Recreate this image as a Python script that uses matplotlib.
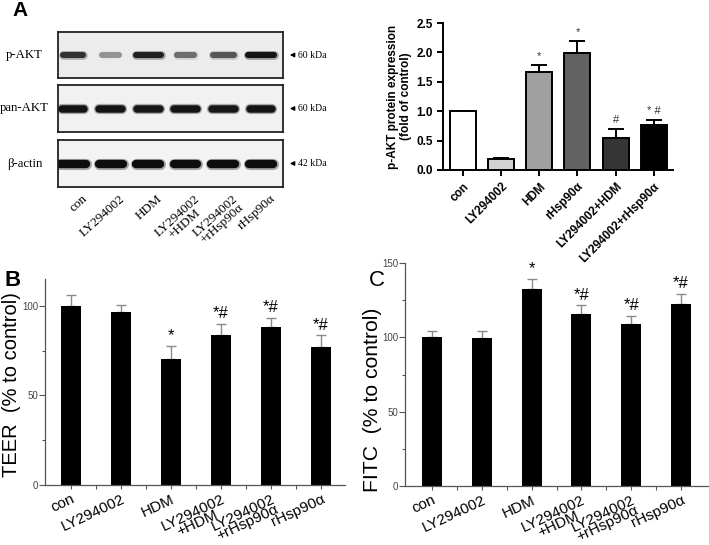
import matplotlib
matplotlib.use("Agg")
import matplotlib.pyplot as plt
import numpy as np

W, H = 709, 545

# ---------------- data ----------------
blot_rows = ["p-AKT", "pan-AKT", "β-actin"]
blot_kda = ["60 kDa", "60 kDa", "42 kDa"]
blot_lanes = ["con", "LY294002", "HDM", "LY294002\n+HDM", "LY294002\n+rHsp90α", "rHsp90α"]
band_pakt = [0.85, 0.45, 0.92, 0.6, 0.7, 0.97]
band_pakt_w = [0.70, 0.62, 0.82, 0.62, 0.74, 0.86]
band_pan = [0.97, 0.97, 0.96, 0.97, 0.96, 0.97]
band_pan_w = [0.76, 0.76, 0.76, 0.78, 0.76, 0.76]
band_actin = [1.0, 1.0, 1.0, 1.0, 1.0, 1.0]
band_actin_w = [0.86, 0.80, 0.80, 0.78, 0.80, 0.80]

a_cats = ["con", "LY294002", "HDM", "rHsp90α", "LY294002+HDM", "LY294002+rHsp90α"]
a_vals = [1.0, 0.19, 1.67, 1.99, 0.55, 0.76]
a_errs = [0.0, 0.02, 0.11, 0.20, 0.15, 0.09]
a_colors = ["#ffffff", "#d2d2d2", "#a0a0a0", "#626262", "#353535", "#000000"]
a_marks = ["", "", "*", "*", "#", "* #"]
a_yticks = [0.0, 0.5, 1.0, 1.5, 2.0, 2.5]

bc_cats = ["con", "LY294002", "HDM", "LY294002\n+HDM", "LY294002\n+rHsp90α", "rHsp90α"]
b_vals = [100, 96.5, 70.5, 84, 88, 77]
b_errs = [6, 4.2, 7, 6, 5.5, 6.5]
b_marks = ["", "", "*", "*#", "*#", "*#"]
c_vals = [100, 99.5, 132.5, 116, 109, 122.5]
c_errs = [4.2, 4.5, 7, 5.5, 5.5, 6.5]
c_marks = ["", "", "*", "*#", "*#", "*#"]

# ---------------- helpers ----------------
fig = plt.figure(figsize=(W / 100, H / 100), dpi=100)

def rect(x0, y0, x1, y1):
    return [x0 / W, 1 - y1 / H, (x1 - x0) / W, (y1 - y0) / H]

def fx(x):
    return x / W

def fy(y):
    return 1 - y / H

SERIF = ["Liberation Serif", "DejaVu Serif"]
SANS = ["Liberation Sans", "DejaVu Sans"]

# ---------------- Panel A: blots ----------------
fig.text(fx(12), fy(11), "A", fontsize=15, fontweight="bold", family=SANS, va="center")

blot_boxes = [(32, 78), (85, 132), (140, 187)]
bands = [(band_pakt, band_pakt_w, 4.4), (band_pan, band_pan_w, 5.4), (band_actin, band_actin_w, 6.0)]
bgs = ["#ececec", "#f1f1f1", "#f3f3f3"]
lane_x = np.arange(len(blot_lanes))
for i, ((y0, y1), (ints, wids, lw), bg) in enumerate(zip(blot_boxes, bands, bgs)):
    ax = fig.add_axes(rect(58, y0, 283, y1))
    ax.set_facecolor(bg)
    ax.set_xlim(-0.4, 5.585)
    ax.set_ylim(0, 1)
    for x, it, w in zip(lane_x, ints, wids):
        g = 1 - 0.95 * it
        ax.plot([x - w / 2 + 0.08, x + w / 2 - 0.08], [0.5, 0.5], color=str(min(1, g + 0.35)),
                lw=lw + 2.0, solid_capstyle="round", alpha=0.55)
        ax.plot([x - w / 2 + 0.08, x + w / 2 - 0.08], [0.5, 0.5], color=str(g),
                lw=lw, solid_capstyle="round")
    ax.set_xticks([])
    ax.set_yticks([])
    for s in ax.spines.values():
        s.set_linewidth(1.3)
        s.set_color("#222222")
    yc = (y0 + y1) / 2
    fig.text(fx(24.5), fy(yc), blot_rows[i], fontsize=9.2, family=SERIF, ha="center", va="center")
    fig.text(fx(298), fy(yc), blot_kda[i], fontsize=7, family=SERIF, ha="left", va="center")
    fig.add_artist(matplotlib.patches.FancyArrowPatch((fx(296), fy(yc)), (fx(287), fy(yc)),
                                                      transform=fig.transFigure, arrowstyle="-|>",
                                                      mutation_scale=6, lw=1, color="black"))
    if i == 2:
        ax.set_xticks(lane_x + 0.22)
        ax.tick_params(axis="x", length=0, pad=4)
        ax.set_xticklabels(blot_lanes, rotation=42, ha="right", rotation_mode="anchor",
                           family=SERIF, fontsize=9.5, multialignment="center", linespacing=0.9)

# ---------------- Panel A: bar chart ----------------
axa = fig.add_axes(rect(443, 23, 673, 170))
xa = np.arange(len(a_cats))
axa.bar(xa, a_vals, width=0.68, color=a_colors, edgecolor="black", linewidth=1.4, zorder=2)
axa.errorbar(xa, a_vals, yerr=[np.zeros(len(a_errs)), a_errs], fmt="none", ecolor="black",
             elinewidth=1.4, capsize=5.5, capthick=1.4, zorder=1)
axa.set_xlim(-0.52, 5.5)
axa.set_ylim(0, 2.5)
axa.set_yticks(a_yticks)
axa.set_yticklabels([f"{v:.1f}" for v in a_yticks], fontsize=8.5, fontweight="bold", family=SANS)
axa.set_xticks(xa)
axa.set_xticklabels(a_cats, rotation=45, ha="right", rotation_mode="anchor",
                    fontsize=8.5, fontweight="bold", family=SANS)
axa.set_ylabel("p-AKT protein expression\n(fold of control)", fontsize=8.5, fontweight="bold",
               family=SANS, labelpad=3, linespacing=1.05)
for s in ["top", "right"]:
    axa.spines[s].set_visible(False)
for s in ["left", "bottom"]:
    axa.spines[s].set_linewidth(1.4)
axa.tick_params(width=1.4, length=4)
for x, v, e, m in zip(xa, a_vals, a_errs, a_marks):
    if m:
        axa.annotate(m, (x, v + e), xytext=(0, 3), textcoords="offset points", ha="center",
                     va="bottom", fontsize=8, color="#333333", family=SANS)

# ---------------- Panels B & C ----------------
def bc_panel(box, vals, errs, marks, ymax, yticks, minors, xl, ylabel, ylab_xy, ylab_fs,
             letter, letter_xy, letter_bold):
    ax = fig.add_axes(rect(*box))
    x = np.arange(len(bc_cats))
    ax.bar(x, vals, width=0.4, color="black", zorder=2)
    ax.errorbar(x, vals, yerr=[np.zeros(len(errs)), errs], fmt="none", ecolor="#8a8a8a",
                elinewidth=1.0, capsize=3.5, capthick=1.0, zorder=1)
    ax.set_xlim(*xl)
    ax.set_ylim(0, ymax)
    ax.set_yticks(yticks)
    ax.set_yticks(minors, minor=True)
    ax.set_yticklabels([str(t) for t in yticks], fontsize=7, color="#444444", family=SANS)
    ax.set_xticks(x)
    ax.set_xticks(x[:-1] + 0.5, minor=True)
    ax.set_xticklabels(bc_cats, rotation=25, ha="right", rotation_mode="anchor", fontsize=11,
                       family=SANS, linespacing=0.72, multialignment="center")
    ax.tick_params(axis="x", which="major", length=3, width=0.8, color="#555555", pad=2)
    ax.tick_params(axis="x", which="minor", length=3, width=0.8, color="#555555")
    ax.tick_params(axis="y", which="major", length=4, width=0.8, color="#555555", pad=1)
    ax.tick_params(axis="y", which="minor", length=2.5, width=0.8, color="#555555")
    for s in ["top", "right"]:
        ax.spines[s].set_visible(False)
    for s in ["left", "bottom"]:
        ax.spines[s].set_linewidth(0.9)
        ax.spines[s].set_color("#555555")
    for xi, v, e, m in zip(x, vals, errs, marks):
        if m:
            ax.annotate(m, (xi, v + e), xytext=(0, 2), textcoords="offset points", ha="center",
                        va="bottom", fontsize=12, family=SANS)
    fig.text(fx(ylab_xy[0]), fy(ylab_xy[1]), ylabel, rotation=90, fontsize=ylab_fs, family=SANS,
             ha="center", va="center")
    fig.text(fx(letter_xy[0]), fy(letter_xy[1]), letter, fontsize=16, family=SANS,
             fontweight="bold" if letter_bold else "normal", ha="center", va="center")
    return ax

bc_panel((45, 279, 345, 485), b_vals, b_errs, b_marks, 115, [0, 50, 100], [25, 75],
         (-0.52, 5.48), "TEER  (% to control)", (12, 385), 14.5, "B", (12.5, 281), True)
bc_panel((405, 263, 708, 486), c_vals, c_errs, c_marks, 150, [0, 50, 100, 150], [25, 75, 125],
         (-0.54, 5.54), "FITC  (% to control)", (373, 400), 15.2, "C", (377, 281), False)

fig.savefig("out.png", dpi=100)
